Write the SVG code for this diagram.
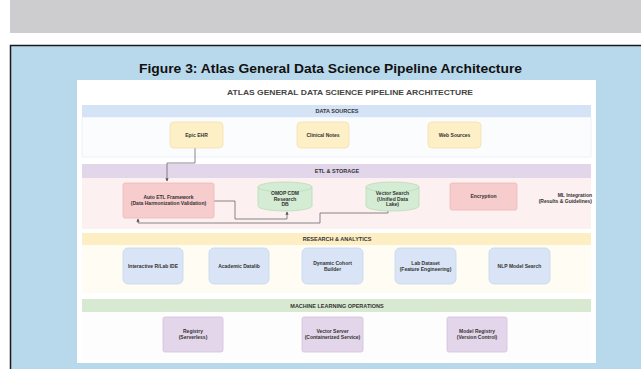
<svg xmlns="http://www.w3.org/2000/svg" width="641" height="369" viewBox="0 0 641 369">
<style>
.t{font-family:"Liberation Sans",Arial,sans-serif;font-weight:bold;fill:#333;text-anchor:middle}
.n{font-size:5px}
.sec{font-size:5.5px}
.node{stroke-width:0.8}
.ds{fill:#fdefc6;stroke:#f3e0ae}
.etl{fill:#f7cccc;stroke:#eeb8b8}
.cyl{fill:#d3ecd3;stroke:#b7dcb7}
.ra{fill:#d9e5f6;stroke:#c5d7ee}
.ml{fill:#e4d6ea;stroke:#d3c2dd}
.conn{fill:none;stroke:#6a6a6a;stroke-width:0.8}
</style>
<defs>
<marker id="ah" viewBox="0 0 6 6" refX="5" refY="3" markerWidth="4" markerHeight="4" orient="auto">
<path d="M0,0 L6,3 L0,6 z" fill="#555"/>
</marker>
</defs>
<rect width="641" height="369" fill="#ffffff"/>
<rect x="10" y="0" width="631" height="33" fill="#cdcdcf"/>
<rect x="10" y="45" width="631" height="324" fill="#b8d8eb"/>
<path d="M10.5,369 L10.5,45.5 L641,45.5" fill="none" stroke="#1a1a1a" stroke-width="1.5"/>
<text x="330.5" y="73" class="t" style="font-size:13.5px;fill:#111" textLength="383" lengthAdjust="spacingAndGlyphs">Figure 3: Atlas General Data Science Pipeline Architecture</text>
<rect x="77" y="80" width="519" height="283" fill="#ffffff"/>
<text x="350" y="95" class="t" style="font-size:7px;fill:#444" textLength="246" lengthAdjust="spacingAndGlyphs">ATLAS GENERAL DATA SCIENCE PIPELINE ARCHITECTURE</text>

<g id="sec-data">
<rect x="82" y="117" width="509" height="40" fill="#fbfcfe" stroke="#e8eef7" stroke-width="0.8"/>
<rect x="82" y="105" width="509" height="12" fill="#d5e3f7"/>
<text x="337" y="113" class="t sec">DATA SOURCES</text>
</g>
<g id="sec-etl">
<rect x="82" y="178" width="509" height="51" fill="#fdf0f0"/>
<rect x="82" y="164" width="509" height="14" fill="#e2d6ea"/>
<text x="337" y="173" class="t sec">ETL &amp; STORAGE</text>
</g>
<g id="sec-ra">
<rect x="82" y="245" width="509" height="48" fill="#fffcf3"/>
<rect x="82" y="233" width="509" height="12" fill="#fdeec4"/>
<text x="337" y="241" class="t sec">RESEARCH &amp; ANALYTICS</text>
</g>
<g id="sec-ml">
<rect x="82" y="312" width="509" height="48" fill="#fcfdfc"/>
<rect x="82" y="299" width="509" height="13" fill="#d7ead1"/>
<text x="337" y="307.5" class="t sec">MACHINE LEARNING OPERATIONS</text>
</g>

<g id="connectors">
<path class="conn" d="M195,148 L195,163 L167,163 L167,181" marker-end="url(#ah)"/>
<path class="conn" d="M214,201 L235,201 L235,219 L287,219 L287,212" marker-end="url(#ah)"/>
<path class="conn" d="M388,211 L388,213 L320,213 L320,223 L138,223 L138,219" marker-end="url(#ah)"/>
</g>

<g id="epic-ehr">
<rect class="node ds" x="170" y="122" width="53" height="26" rx="4"/>
<text x="196.5" y="136.5" class="t n">Epic EHR</text>
</g>
<g id="clinical-notes">
<rect class="node ds" x="297" y="122" width="52" height="26" rx="4"/>
<text x="323" y="136.5" class="t n">Clinical Notes</text>
</g>
<g id="web-sources">
<rect class="node ds" x="428" y="122" width="53" height="26" rx="4"/>
<text x="454.5" y="136.5" class="t n">Web Sources</text>
</g>

<g id="auto-etl">
<rect class="node etl" x="123" y="183" width="91" height="35" rx="2"/>
<text x="168.5" y="199" class="t n">Auto ETL Framework</text>
<text x="168.5" y="205" class="t n">(Data Harmonization Validation)</text>
</g>
<g id="data-warehouse">
<path class="node cyl" d="M258,187 A27,5 0 0 1 312,187 L312,206 A27,5 0 0 1 258,206 Z"/>
<path d="M258,187 A27,5 0 0 0 312,187" fill="none" stroke="#b7dcb7" stroke-width="0.8"/>
<text x="285" y="195" class="t n">OMOP CDM</text>
<text x="285" y="200.5" class="t n">Research</text>
<text x="285" y="206" class="t n">DB</text>
</g>
<g id="data-lake">
<path class="node cyl" d="M366,187 A26.5,5 0 0 1 419,187 L419,206 A26.5,5 0 0 1 366,206 Z"/>
<path d="M366,187 A26.5,5 0 0 0 419,187" fill="none" stroke="#b7dcb7" stroke-width="0.8"/>
<text x="392.5" y="195" class="t n">Vector Search</text>
<text x="392.5" y="200.5" class="t n">(Unified Data</text>
<text x="392.5" y="206" class="t n">Lake)</text>
</g>
<g id="encryption">
<rect class="node etl" x="450" y="183" width="67" height="27" rx="2"/>
<text x="483.5" y="198" class="t n">Encryption</text>
</g>
<g id="ml-integration">
<text x="592" y="197" class="t n" style="text-anchor:end">ML Integration</text>
<text x="592" y="203" class="t n" style="text-anchor:end">(Results &amp; Guidelines)</text>
</g>

<g id="interactive-ide">
<rect class="node ra" x="123" y="248" width="60" height="36" rx="5"/>
<text x="153" y="267.5" class="t n">Interactive R/Lab IDE</text>
</g>
<g id="academic-datalib">
<rect class="node ra" x="209" y="248" width="60" height="36" rx="5"/>
<text x="239" y="267.5" class="t n">Academic Datalib</text>
</g>
<g id="cohort-builder">
<rect class="node ra" x="302" y="248" width="61" height="36" rx="5"/>
<text x="332.5" y="264.5" class="t n">Dynamic Cohort</text>
<text x="332.5" y="270.5" class="t n">Builder</text>
</g>
<g id="lab-dataset">
<rect class="node ra" x="395" y="248" width="61" height="36" rx="5"/>
<text x="425.5" y="264.5" class="t n">Lab Dataset</text>
<text x="425.5" y="270.5" class="t n">(Feature Engineering)</text>
</g>
<g id="nlp-search">
<rect class="node ra" x="489" y="248" width="61" height="36" rx="5"/>
<text x="519.5" y="267.5" class="t n">NLP Model Search</text>
</g>

<g id="registry">
<rect class="node ml" x="163" y="317" width="60" height="35" rx="2"/>
<text x="193" y="333" class="t n">Registry</text>
<text x="193" y="339" class="t n">(Serverless)</text>
</g>
<g id="vector-server">
<rect class="node ml" x="302" y="317" width="61" height="35" rx="2"/>
<text x="332.5" y="333" class="t n">Vector Server</text>
<text x="332.5" y="339" class="t n">(Containerized Service)</text>
</g>
<g id="model-registry">
<rect class="node ml" x="447" y="317" width="60" height="35" rx="2"/>
<text x="477" y="333" class="t n">Model Registry</text>
<text x="477" y="339" class="t n">(Version Control)</text>
</g>
</svg>
